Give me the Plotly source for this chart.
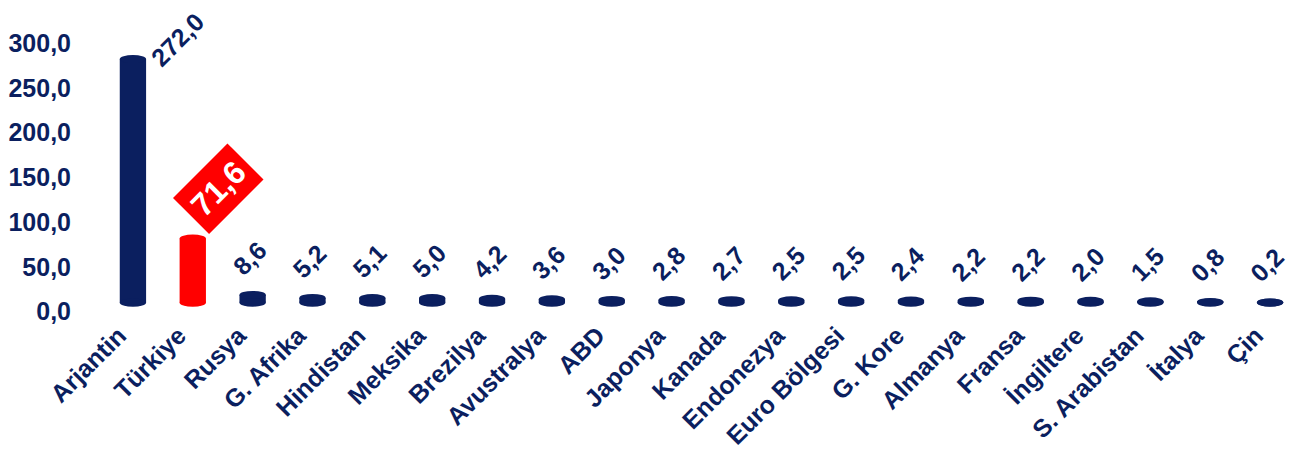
import plotly.graph_objects as go

categories = ["Arjantin", "Türkiye", "Rusya", "G. Afrika", "Hindistan", "Meksika",
              "Brezilya", "Avustralya", "ABD", "Japonya", "Kanada", "Endonezya",
              "Euro Bölgesi", "G. Kore", "Almanya", "Fransa", "İngiltere",
              "S. Arabistan", "İtalya", "Çin"]
values = [272.0, 71.6, 8.6, 5.2, 5.1, 5.0, 4.2, 3.6, 3.0, 2.8, 2.7, 2.5, 2.5,
          2.4, 2.2, 2.2, 2.0, 1.5, 0.8, 0.2]
highlight = "Türkiye"
y_ticks = [0, 50, 100, 150, 200, 250, 300]

NAVY = "#0b1f5f"
RED = "#ff0000"
FONT = "Arial, Liberation Sans, sans-serif"

xs = list(range(len(categories)))
colors = [RED if c == highlight else NAVY for c in categories]

fig = go.Figure()
fig.add_trace(go.Bar(
    x=xs, y=values, width=0.44, marker=dict(color=colors, line=dict(width=0)),
    hoverinfo="skip", cliponaxis=False,
))

# cylinder caps (ellipses) at top and bottom of each bar
cap = 4.5
half = 0.22
for x, v, col in zip(xs, values, colors):
    for yc in (0, v):
        fig.add_shape(type="circle", xref="x", yref="y",
                      x0=x - half, x1=x + half, y0=yc - cap, y1=yc + cap,
                      fillcolor=col, line=dict(width=0), layer="above")

# value labels
def fmt(v):
    return f"{v:.1f}".replace(".", ",")

vmax = max(values)
for x, v, c in zip(xs, values, categories):
    if c == highlight:
        fig.add_annotation(x=x, y=v, xref="x", yref="y", text=fmt(v),
                           textangle=-45, showarrow=False,
                           xanchor="center", yanchor="middle",
                           xshift=25, yshift=50,
                           bgcolor=RED, borderpad=7,
                           font=dict(family=FONT, size=32, color="white", weight="bold"))
    elif v == vmax:
        fig.add_annotation(x=x, y=v, xref="x", yref="y", text=fmt(v),
                           textangle=-45, showarrow=False,
                           xanchor="left", yanchor="bottom",
                           xshift=10, yshift=-15,
                           font=dict(family=FONT, size=25, color=NAVY, weight="bold"))
    else:
        fig.add_annotation(x=x, y=v, xref="x", yref="y", text=fmt(v),
                           textangle=-45, showarrow=False,
                           xanchor="center", yanchor="bottom",
                           xshift=-3, yshift=12,
                           font=dict(family=FONT, size=25, color=NAVY, weight="bold"))

fig.update_layout(
    width=1294, height=443,
    margin=dict(l=95, r=2, t=26, b=143),
    paper_bgcolor="white", plot_bgcolor="white",
    separators=",.",
    showlegend=False,
    xaxis=dict(range=[-0.5, len(categories) - 0.5], tickmode="array",
               tickvals=xs, ticktext=categories, tickangle=-45,
               automargin=False,
               showgrid=False, zeroline=False, showline=False, ticks="",
               ticklabelstandoff=7, ticklabelshift=-14,
               tickfont=dict(family=FONT, size=25, color=NAVY, weight="bold")),
    yaxis=dict(range=[-6, 300], tickmode="array", tickvals=y_ticks,
               tickformat=".1f", showgrid=False, zeroline=False, showline=False,
               automargin=False, ticks="", ticklabelstandoff=31,
               ticklabelshift=9,
               tickfont=dict(family=FONT, size=25, color=NAVY, weight="bold")),
)

fig.write_html("out.html")
